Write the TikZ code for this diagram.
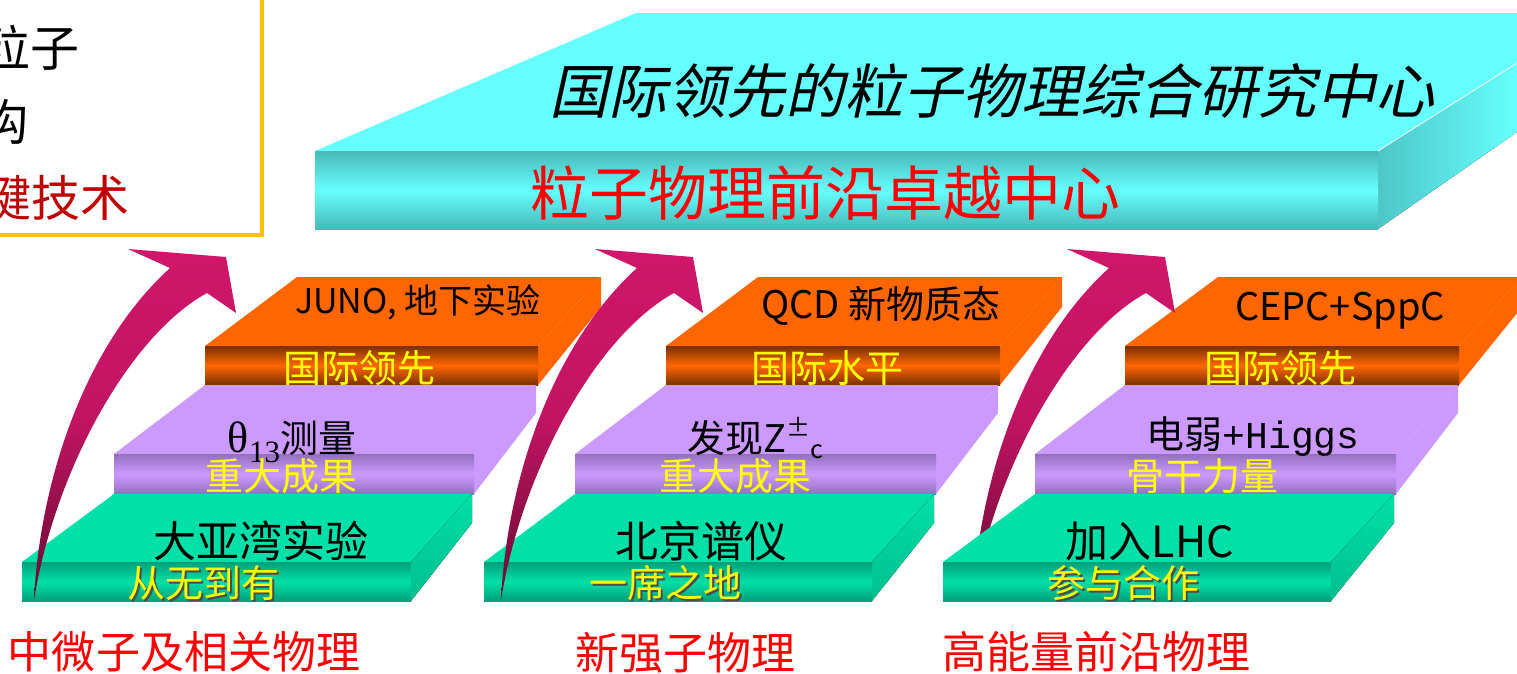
\documentclass[tikz,border=0pt]{standalone}
\usepackage{fontspec}
\setmainfont{Noto Sans CJK SC}
\newfontfamily\cjkit{Noto Sans CJK SC}[FakeSlant=0.22]
\newfontfamily\lserif{Liberation Serif}
\newfontfamily\lmono{Liberation Mono}
\newcommand\fsz[1]{\fontsize{#1}{#1}\selectfont}
\definecolor{cyanT}{HTML}{66FFFF}
\definecolor{cyanD}{HTML}{48B8B8}
\definecolor{orgT}{HTML}{FF6600}
\definecolor{orgD}{HTML}{7A3000}
\definecolor{purT}{HTML}{CC99FF}
\definecolor{purD}{HTML}{9370BE}
\definecolor{grnT}{HTML}{00E0A8}
\definecolor{grnD}{HTML}{00A07A}
\definecolor{arrT}{HTML}{D0166A}
\definecolor{arrD}{HTML}{650A32}
\definecolor{boxC}{HTML}{FFC000}
\definecolor{dred}{HTML}{C00000}
\definecolor{txtred}{HTML}{FF0000}
\definecolor{ylw}{HTML}{FFFF00}
\newcommand\slab[9]{%
  \fill[#9top] (#1,#3) -- (#5,#7) -- (#6,#7) -- (#2,#3) -- cycle;
  \fill[#9side] (#2,#3) -- (#6,#7) -- (#6,#8) -- (#2,#4) -- cycle;
  \fill[#9front] (#1,#3) rectangle (#2,#4);}
\newcommand\bigarrow[1]{%
  \shade[arrowshape, shift={(#1,0)}] (34,600) .. controls (40,480) and (85,345) .. (170,268)
    -- (128,249) -- (226,257) -- (236,313) -- (207,293)
    .. controls (130,335) and (55,470) .. (34,600) -- cycle;}
\begin{document}
\begin{tikzpicture}[x=1pt,y=-1pt,
  lbl/.style={inner sep=0pt, outer sep=0pt},
  orgtop/.style={fill=orgT}, orgside/.style={fill=orgT},
  orgfront/.style={top color=orgD, bottom color=orgD, middle color=orgT},
  purtop/.style={fill=purT}, purside/.style={fill=purT},
  purfront/.style={top color=purD, bottom color=purD, middle color=purT},
  grntop/.style={fill=grnT}, grnside/.style={top color=grnT, bottom color=grnT!85!black},
  grnfront/.style={top color=grnD, bottom color=grnD, middle color=grnT},
  arrowshape/.style={top color=arrT, bottom color=arrD, middle color=arrT!85!arrD},
  toptxt/.style={lbl, font={\fsz{38}}},
  ylwtxt/.style={lbl, font={\fsz{38}}, text=ylw},
  shdtxt/.style={lbl, font={\fsz{38}}, text=black!70},
  grntxt/.style={lbl, font={\fsz{43}}},
  bottxt/.style={lbl, font={\fsz{44}}, text=txtred},
  boxtxt/.style={lbl, font={\fsz{49}}, anchor=east}]
\useasboundingbox (0,0) rectangle (1517,673);
\clip (0,0) rectangle (1517,673);
\fill[white] (0,0) rectangle (1517,673);

% top-left box
\draw[line width=4pt, draw=boxC, fill=white] (-20,-20) rectangle (262,235);
\node[boxtxt] (tl1) at (80,48) {粒子};
\node[boxtxt] (tl2) at (29,122) {构};
\node[boxtxt, text=dred] (tl3) at (130,198) {键技术};

% top cyan slab
\fill[cyanT] (315,151) -- (636,13) -- (1517,13) -- (1517,63) -- (1378,151) -- cycle;
\fill[left color=cyanD!80!cyanT, right color=cyanT] (1378,151) -- (1517,63) -- (1517,132) -- (1378,229) -- cycle;
\draw[white, line width=0.8pt] (1378,151) -- (1517,63);
\fill[top color=cyanD, bottom color=cyanD, middle color=cyanT] (315,151) rectangle (1378,229);
\node[lbl, font={\cjkit\fsz{59}}] (c1) at (992,91) {国际领先的粒子物理综合研究中心};
\node[lbl, font={\fsz{59}}, text=txtred] (c2) at (825,193) {粒子物理前沿卓越中心};

% ===== column 1 =====
\slab{205}{538}{346}{385}{297}{601}{277}{307}{org}
\node[lbl, font={\fsz{34}}] (o1) at (418,302) {JUNO, 地下实验};
\node[ylwtxt] (o1b) at (359,368) {国际领先};
\slab{114}{474}{454}{494}{205}{536}{385}{413}{pur}
\node[toptxt, anchor=base] (p1) at (292,452) {{\lserif\fsz{44}θ}\raisebox{-10pt}{\lserif\fsz{31}13}测量};
\node[ylwtxt] (p1b) at (281,476) {重大成果};
\slab{22}{411}{562}{601}{114}{472}{494}{523}{grn}
\node[grntxt] (g1) at (261,541) {大亚湾实验};
\node[shdtxt] (g1s) at (205,585) {从无到有};
\node[ylwtxt] (g1b) at (203,583) {从无到有};
\bigarrow{0}

% ===== column 2 =====
\slab{666}{1000}{346}{385}{758}{1062}{277}{307}{org}
\node[toptxt] (o2) at (881,306) {QCD 新物质态};
\node[ylwtxt] (o2b) at (827,368) {国际水平};
\slab{575}{936}{454}{494}{666}{998}{385}{413}{pur}
\node[toptxt, anchor=base] (p2) at (755,452) {发现Z\raisebox{16pt}{\fsz{24}±}\raisebox{-6pt}{\fsz{25}c}};
\node[ylwtxt] (p2b) at (735,476) {重大成果};
\slab{484}{872}{562}{601}{575}{934}{494}{523}{grn}
\node[grntxt] (g2) at (701,541) {北京谱仪};
\node[shdtxt] (g2s) at (667,585) {一席之地};
\node[ylwtxt] (g2b) at (665,583) {一席之地};
\bigarrow{467}

% ===== column 3 =====
\slab{1125}{1459}{346}{385}{1218}{1522}{277}{307}{org}
\node[toptxt] (o3) at (1340,311) {CEPC+SppC};
\node[ylwtxt] (o3b) at (1280,368) {国际领先};
\slab{1035}{1396}{454}{494}{1125}{1458}{385}{413}{pur}
\node[toptxt] (p3) at (1253,437) {电弱{\lmono +Higgs}};
\node[ylwtxt] (p3b) at (1202,476) {骨干力量};
\bigarrow{939}
\slab{943}{1331}{562}{601}{1035}{1394}{494}{523}{grn}
\node[grntxt] (g3) at (1150,541) {加入LHC};
\node[shdtxt] (g3s) at (1125,585) {参与合作};
\node[ylwtxt] (g3b) at (1123,583) {参与合作};

% bottom labels
\node[bottxt] (b1) at (184,652) {中微子及相关物理};
\node[bottxt] (b2) at (685,653) {新强子物理};
\node[bottxt] (b3) at (1096,652) {高能量前沿物理};
\end{tikzpicture}
\end{document}
